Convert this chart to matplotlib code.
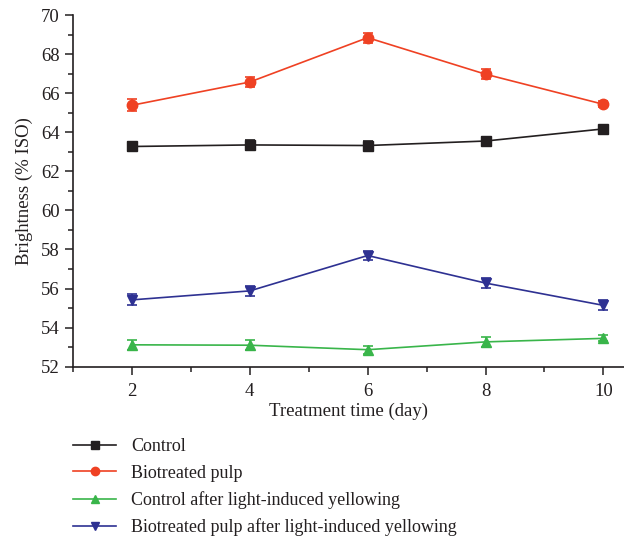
import matplotlib
matplotlib.use('Agg')
import matplotlib.pyplot as plt
from matplotlib.ticker import MultipleLocator

plt.rcParams['font.family'] = 'Liberation Serif'
txt = '#231f20'

days = [2, 4, 6, 8, 10]

control = [63.27, 63.35, 63.32, 63.55, 64.17]
control_err = [0.25, 0.25, 0.25, 0.22, 0.1]
bio = [65.38, 66.57, 68.84, 66.97, 65.43]
bio_err = [0.3, 0.25, 0.25, 0.25, 0.15]
control_y = [53.12, 53.1, 52.87, 53.27, 53.45]
control_y_err = [0.25, 0.25, 0.2, 0.25, 0.15]
bio_y = [55.42, 55.88, 57.69, 56.28, 55.14]
bio_y_err = [0.28, 0.25, 0.25, 0.25, 0.25]

labels = ["Control", "Biotreated pulp", "Control after light-induced yellowing",
          "Biotreated pulp after light-induced yellowing"]

fig = plt.figure(figsize=(6.24, 5.42), dpi=100)
ax = fig.add_axes([73/624, 1 - 366.7/542, 1 - 73/624, (366.7 - 15)/542])

series = [
    (control, control_err, '#231f20', 's', 6.5),
    (bio, bio_err, '#ef4123', 'o', 7.5),
    (control_y, control_y_err, '#39b54a', '^', 7.5),
    (bio_y, bio_y_err, '#2e3192', 'v', 7.5),
]
handles = []
for (vals, err, col, mk, ms) in series:
    ax.errorbar(days, vals, yerr=err, fmt='none', ecolor=col, elinewidth=1.2,
                capsize=3.5, capthick=1.2)
    ln, = ax.plot(days, vals, color=col, marker=mk, markersize=ms, lw=1.2)
    handles.append(ln)

ax.set_xlim(1, 10.35)
ax.set_ylim(52, 70)
ax.xaxis.set_major_locator(MultipleLocator(2))
ax.xaxis.set_minor_locator(MultipleLocator(1))
ax.yaxis.set_major_locator(MultipleLocator(2))
ax.yaxis.set_minor_locator(MultipleLocator(1))
ax.spines['top'].set_visible(False)
ax.spines['right'].set_visible(False)
for s in ['left', 'bottom']:
    ax.spines[s].set_color(txt)
    ax.spines[s].set_linewidth(1.2)
ax.tick_params(which='both', direction='out', colors=txt, labelsize=13.5, width=1.1)
ax.tick_params(which='major', length=6)
ax.tick_params(which='minor', length=3.5)
ax.tick_params(axis='x', pad=6)

ax.set_xlabel("Treatment time (day)", fontsize=13.5, color=txt, labelpad=2)
ax.set_ylabel("Brightness (% ISO)", fontsize=13.5, color=txt, labelpad=6)

fig.legend(handles, labels, loc='upper left', bbox_to_anchor=(73/624, 1 - 438/542),
           frameon=False, fontsize=13, handlelength=2.4, handletextpad=0.8,
           labelspacing=0.53, borderpad=0, borderaxespad=0, labelcolor=txt,
           markerscale=0.8)

fig.savefig("out.png", dpi=100)
